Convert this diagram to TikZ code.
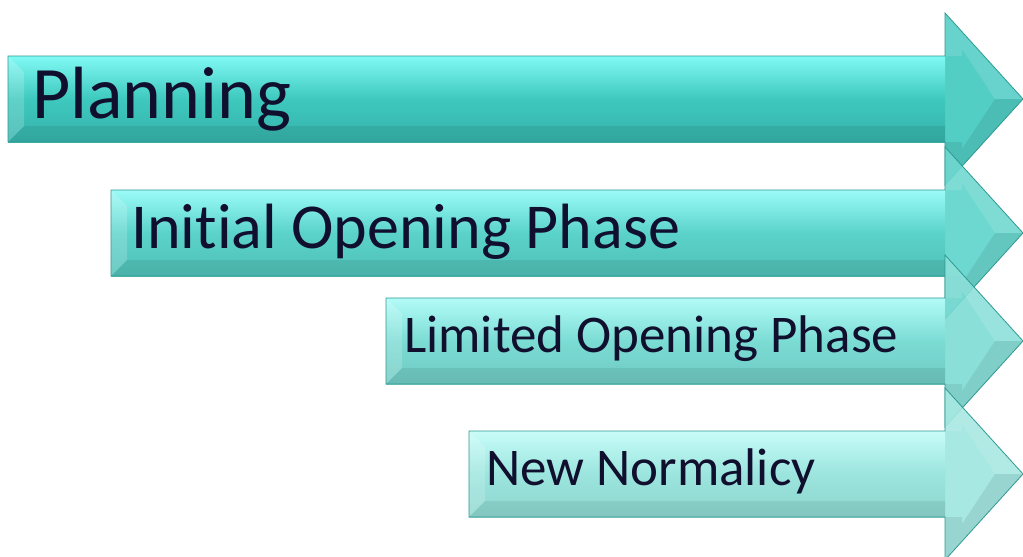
\documentclass[tikz,border=0pt]{standalone}
\usepackage{fontspec}
\setmainfont{Carlito}[Ligatures=NoCommon]
\definecolor{txt}{HTML}{10102E}
\definecolor{aMid}{HTML}{3CC8BE}\definecolor{aLight}{HTML}{86FFF9}\definecolor{aDark}{HTML}{33B0A8}
\definecolor{bMid}{HTML}{59D3CA}\definecolor{bLight}{HTML}{A0FFFC}\definecolor{bDark}{HTML}{4DBDB4}
\definecolor{cMid}{HTML}{7ADCD4}\definecolor{cLight}{HTML}{B8FFFC}\definecolor{cDark}{HTML}{6CC8C0}
\definecolor{dMid}{HTML}{9BE5DE}\definecolor{dLight}{HTML}{CCFFFC}\definecolor{dDark}{HTML}{8AD5CD}
\definecolor{edge}{HTML}{2E9A93}
\tikzset{
  phaselabel/.style={anchor=base west, inner sep=0pt, text=txt},
  arrowedge/.style={draw=edge, line width=0.8pt, line join=miter},
}
% #1 left x, #2 centre y, #3 mid, #4 light, #5 dark
\newcommand\phasearrow[5]{%
  \fill[#3, fill opacity=0.88] (#1,#2-43) -- (945,#2-43) -- (945,#2-86) -- (1023,#2) -- (945,#2+86) -- (945,#2+43) -- (#1,#2+43) -- cycle;
  \shade[top color=#4, bottom color=#5, middle color=#3, opacity=0.9] (#1,#2-43) rectangle (945,#2+43);
  % bevel facets
  \fill[white, fill opacity=0.18] (#1,#2-43) -- (#1+16,#2-27) -- (#1+16,#2+27) -- (#1,#2+43) -- cycle;
  \fill[black, fill opacity=0.07] (#1,#2+43) -- (#1+16,#2+27) -- (945,#2+27) -- (945,#2+43) -- cycle;
  \fill[white, fill opacity=0.12] (945,#2-86) -- (1023,#2) -- (995,#2) -- (962,#2-50) -- (962,#2-43) -- (945,#2-43) -- cycle;
  \fill[black, fill opacity=0.08] (945,#2+86) -- (1023,#2) -- (995,#2) -- (962,#2+50) -- (962,#2+43) -- (945,#2+43) -- cycle;
  \draw[arrowedge] (#1,#2-43) -- (945,#2-43) -- (945,#2-86) -- (1023,#2) -- (945,#2+86) -- (945,#2+43) -- (#1,#2+43) -- cycle;
}
\begin{document}
\begin{tikzpicture}[x=1pt,y=-1pt]
\useasboundingbox (0,0) rectangle (1023,557);
\fill[white] (0,0) rectangle (1023,557);
\phasearrow{8}{99}{aMid}{aLight}{aDark}
\node[phaselabel, font=\fontsize{74}{80}\selectfont] (planning) at (32,118) {Planning};
\phasearrow{111}{233}{bMid}{bLight}{bDark}
\node[phaselabel, font=\fontsize{64}{70}\selectfont] (initial) at (131,248) {Initial Opening Phase};
\phasearrow{386}{341}{cMid}{cLight}{cDark}
\node[phaselabel, font=\fontsize{53}{60}\selectfont] (limited) at (404,352) {Limited Opening Phase};
\phasearrow{469}{474}{dMid}{dLight}{dDark}
\node[phaselabel, font=\fontsize{53}{60}\selectfont] (normalicy) at (486,485) {New Normalicy};
\end{tikzpicture}
\end{document}
